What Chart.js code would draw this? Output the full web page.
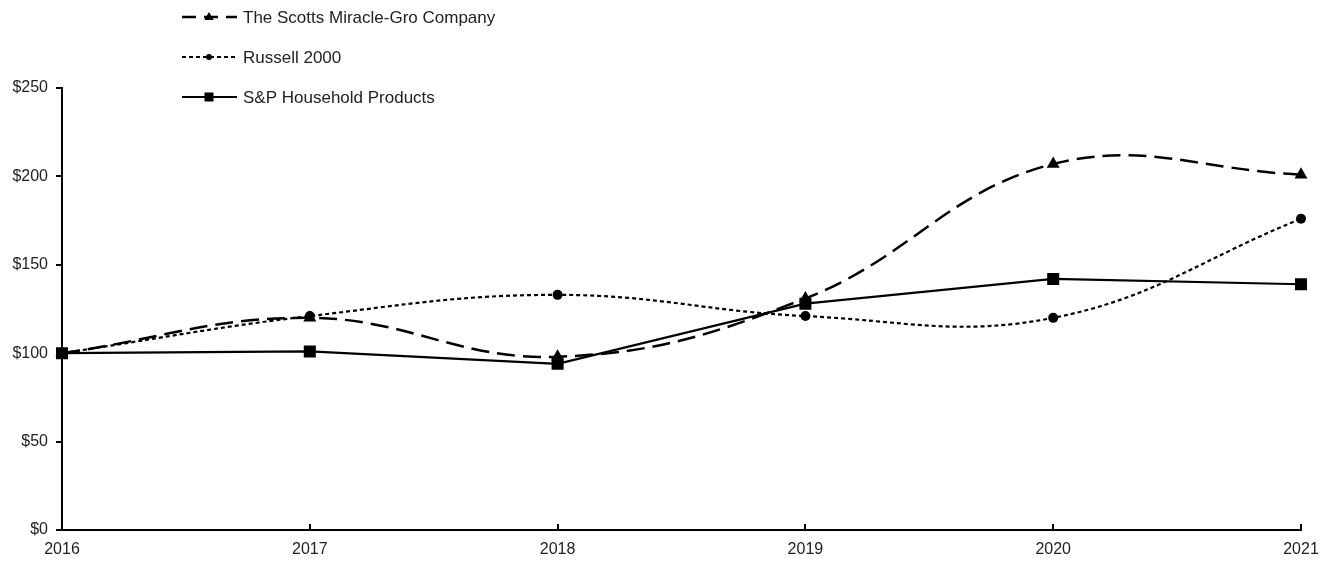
<!DOCTYPE html>
<html>
<head>
<meta charset="utf-8">
<script src="https://cdn.jsdelivr.net/npm/chart.js@4"></script>
<style>
  html, body { margin: 0; padding: 0; background: #fff; }
  #wrap { width: 1322px; height: 562px; position: relative; }
</style>
</head>
<body>
<div id="wrap"><canvas id="c" width="1322" height="562"></canvas></div>
<script>
const years = ['2016', '2017', '2018', '2019', '2020', '2021'];
const scottsValues = [100, 120, 98, 131, 207, 201];
const russellValues = [100, 121, 133, 121, 120, 176];
const spValues = [100, 101, 94, 128, 142, 139];
const seriesNames = ['The Scotts Miracle-Gro Company', 'Russell 2000', 'S&P Household Products'];
const yTicks = [0, 50, 100, 150, 200, 250];

const FONT = "'Liberation Sans', Arial, sans-serif";

const legendPlugin = {
  id: 'customLegend',
  afterDraw(chart) {
    const ctx = chart.ctx;
    const rows = [17, 57, 97];
    chart.data.datasets.forEach((ds, i) => {
      const y = rows[i];
      ctx.save();
      ctx.strokeStyle = '#000';
      ctx.lineWidth = ds.borderWidth;
      ctx.setLineDash(ds.legendDash || []);
      ctx.beginPath();
      ctx.moveTo(182, y);
      ctx.lineTo(237, y);
      ctx.stroke();
      ctx.setLineDash([]);
      ctx.fillStyle = '#000';
      const r = ds.legendRadius;
      ctx.beginPath();
      if (ds.pointStyle === 'triangle') {
        ctx.moveTo(209, y - r);
        ctx.lineTo(209 + r * 0.95, y + r * 0.6);
        ctx.lineTo(209 - r * 0.95, y + r * 0.6);
        ctx.closePath();
      } else if (ds.pointStyle === 'rect') {
        ctx.rect(209 - r, y - r, 2 * r, 2 * r);
      } else {
        ctx.arc(209, y, r, 0, Math.PI * 2);
      }
      ctx.fill();
      ctx.font = '17px ' + FONT;
      ctx.textBaseline = 'middle';
      ctx.textAlign = 'left';
      ctx.fillStyle = '#222';
      ctx.fillText(ds.label, 243, y + 1);
      ctx.restore();
    });
  }
};

const xTickPlugin = {
  id: 'xInnerTicks',
  afterDraw(chart) {
    const ctx = chart.ctx;
    const xs = chart.scales.x;
    const bottom = chart.chartArea.bottom;
    ctx.save();
    ctx.strokeStyle = '#000';
    ctx.lineWidth = 2;
    for (let i = 1; i < xs.ticks.length; i++) {
      const px = Math.round(xs.getPixelForTick(i));
      ctx.beginPath();
      ctx.moveTo(px, bottom);
      ctx.lineTo(px, bottom - 6);
      ctx.stroke();
    }
    ctx.restore();
  }
};

new Chart(document.getElementById('c'), {
  type: 'line',
  data: {
    labels: years,
    datasets: [
      {
        label: seriesNames[0],
        data: scottsValues,
        borderColor: '#000',
        backgroundColor: '#000',
        borderWidth: 2.5,
        borderDash: [18, 8],
        legendDash: [14, 8],
        tension: 0.4,
        pointStyle: 'triangle',
        pointRadius: 7.5,
        pointBorderWidth: 0,
        legendRadius: 5,
        order: 1
      },
      {
        label: seriesNames[1],
        data: russellValues,
        borderColor: '#000',
        backgroundColor: '#000',
        borderWidth: 2.2,
        borderDash: [4, 3],
        legendDash: [4, 3],
        tension: 0.4,
        pointStyle: 'circle',
        pointRadius: 5,
        pointBorderWidth: 0,
        legendRadius: 3,
        order: 2
      },
      {
        label: seriesNames[2],
        data: spValues,
        borderColor: '#000',
        backgroundColor: '#000',
        borderWidth: 2.2,
        tension: 0,
        pointStyle: 'rect',
        pointRadius: 8.5,
        pointBorderWidth: 0,
        legendRadius: 4.5,
        order: 3
      }
    ]
  },
  options: {
    responsive: false,
    animation: false,
    devicePixelRatio: 1,
    layout: { padding: { top: 88, right: 21, left: 0, bottom: 0 } },
    plugins: {
      legend: { display: false },
      tooltip: { enabled: false }
    },
    scales: {
      x: {
        type: 'category',
        offset: false,
        afterFit(scale) { scale.height = 32; scale.paddingLeft = 0; scale.paddingRight = 0; },
        grid: { display: true, drawOnChartArea: false, drawTicks: false },
        border: { display: true, color: '#000', width: 2 },
        ticks: {
          color: '#222',
          font: { family: FONT, size: 16 },
          padding: 10,
          maxRotation: 0,
          autoSkip: false
        }
      },
      y: {
        min: 0,
        max: 250,
        afterFit(scale) { scale.width = 62; scale.paddingTop = 0; scale.paddingBottom = 0; },
        afterBuildTicks(scale) { scale.ticks = yTicks.map(v => ({ value: v })); },
        grid: { display: true, drawOnChartArea: false, drawTicks: true, tickLength: 6, color: '#000', lineWidth: 2 },
        border: { display: true, color: '#000', width: 2 },
        ticks: {
          color: '#222',
          font: { family: FONT, size: 16 },
          padding: 8,
          callback: v => '$' + v
        }
      }
    }
  },
  plugins: [legendPlugin, xTickPlugin]
});
</script>
</body>
</html>
